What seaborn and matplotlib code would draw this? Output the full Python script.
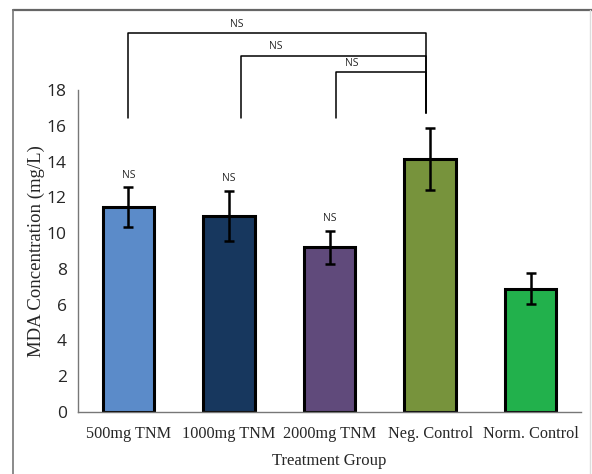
import matplotlib
matplotlib.use("Agg")
import matplotlib.pyplot as plt
import seaborn as sns
import numpy as np
import pandas as pd
from matplotlib.lines import Line2D

groups = ["500mg TNM", "1000mg TNM", "2000mg TNM", "Neg. Control", "Norm. Control"]
mda = [11.45, 10.95, 9.2, 14.15, 6.9]
err = [1.1, 1.4, 0.9, 1.75, 0.87]
colors = ["#5B8BC9", "#17375E", "#604A7B", "#77933C", "#22B14C"]
bar_ns = ["NS", "NS", "NS", "", ""]

# comparison brackets: (left x, right x, bracket y, left foot y, right foot y, label)
brackets = [(0.0, 2.96, 21.17, 16.42, 16.7, "NS"),
            (1.12, 2.96, 19.9, 16.42, 16.7, "NS"),
            (2.06, 2.96, 19.0, 16.42, 16.7, "NS")]
ns_x = [1.08, 1.47, 2.22]

df = pd.DataFrame({"group": groups, "mda": mda})

sns.set_style("white")
fig = plt.figure(figsize=(5.92, 4.74), dpi=100)
ax = fig.add_axes([78 / 592, 62 / 474, (581 - 78) / 592, (412 - 90) / 474])

sns.barplot(data=df, x="group", y="mda", hue="group", palette=colors, legend=False,
            saturation=1, width=0.51, edgecolor="black", linewidth=2.2, ax=ax)
ax.errorbar(np.arange(len(groups)), mda, yerr=err, fmt="none", ecolor="black",
            elinewidth=1.8, capsize=3.5, capthick=1.8, zorder=5)

for i, t in enumerate(bar_ns):
    if t:
        ax.annotate(t, (i, mda[i] + err[i]), xytext=(0, 5), textcoords="offset points",
                    ha="center", va="bottom", fontsize=7.5, family="Open Sans")

for (x1, x2, yb, yl, yr, lab), tx in zip(brackets, ns_x):
    ax.plot([x1, x1, x2, x2], [yl, yb, yb, yr], color="black", lw=1.1, clip_on=False)
    ax.text(tx, yb + 0.2, lab, ha="center", va="bottom", fontsize=7.5, family="Open Sans")

ax.set_ylim(0, 18)
ax.set_xlim(-0.5, 4.5)
ax.set_yticks(range(0, 19, 2))
ax.set_yticklabels([str(v) for v in range(0, 19, 2)], fontsize=12.5, family="Open Sans")
ax.set_xticks(np.arange(len(groups)))
ax.set_xticklabels(groups, fontsize=11.7, family="Liberation Serif")
ax.set_xticks(np.arange(len(groups)) + 0.5, minor=True)
ax.tick_params(axis="x", which="major", length=0, pad=10)
ax.tick_params(axis="x", which="minor", direction="in", length=5, color="#777777", width=1)
ax.tick_params(axis="y", direction="in", length=5, color="#777777", width=1, pad=8)

ax.set_xlabel("Treatment Group", fontsize=12, family="Liberation Serif", labelpad=8)
ax.set_ylabel("MDA Concentration (mg/L)", fontsize=13.5, family="Liberation Serif", labelpad=1)

sns.despine(ax=ax, top=True, right=True)
for s in ["left", "bottom"]:
    ax.spines[s].set_color("#777777")
    ax.spines[s].set_linewidth(1)

# outer frame of the figure
fig.add_artist(Line2D([13 / 592, 1], [1 - 10 / 474, 1 - 10 / 474], color="#666666", lw=1.6))
fig.add_artist(Line2D([13 / 592, 13 / 592], [0, 1 - 10 / 474], color="#777777", lw=1.2))
fig.add_artist(Line2D([590 / 592, 590 / 592], [0, 1 - 10 / 474], color="#dddddd", lw=1))

fig.savefig("out.png", dpi=100)
